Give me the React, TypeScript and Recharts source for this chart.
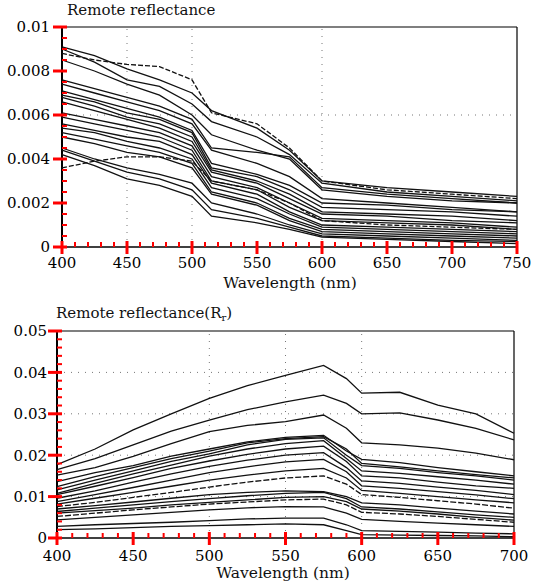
import { LineChart, Line, XAxis, YAxis, ReferenceLine } from "recharts";

// upper panel: remote reflectance, 400-750 nm
const topWavelengths = [400, 425, 450, 475, 500, 515, 550, 575, 600, 650, 700, 750];
const topCurves: number[][] = [
  [0.0091, 0.0087, 0.0081, 0.0076, 0.007, 0.0062, 0.0054, 0.0044, 0.003, 0.0027, 0.0025, 0.0023],
  [0.0088, 0.0085, 0.0083, 0.0082, 0.0076, 0.0061, 0.0056, 0.0045, 0.003, 0.0026, 0.0024, 0.0022],
  [0.009, 0.0084, 0.0076, 0.0073, 0.0065, 0.0057, 0.005, 0.0042, 0.0029, 0.0025, 0.0023, 0.0021],
  [0.0085, 0.008, 0.0074, 0.0069, 0.006, 0.0051, 0.0044, 0.004, 0.0026, 0.0023, 0.0021, 0.002],
  [0.0076, 0.0072, 0.0068, 0.0064, 0.0058, 0.0045, 0.0043, 0.0041, 0.0027, 0.0024, 0.0022, 0.002],
  [0.0074, 0.007, 0.0066, 0.0062, 0.0056, 0.0044, 0.0038, 0.0032, 0.0022, 0.002, 0.0018, 0.0016],
  [0.0071, 0.0067, 0.0063, 0.0059, 0.0053, 0.0038, 0.0033, 0.0028, 0.002, 0.0019, 0.0017, 0.0016],
  [0.0069, 0.0066, 0.0061, 0.0058, 0.0052, 0.0036, 0.0032, 0.0026, 0.0018, 0.0017, 0.0016, 0.0014],
  [0.0068, 0.0064, 0.0059, 0.0056, 0.005, 0.0035, 0.003, 0.0024, 0.0016, 0.0015, 0.0014, 0.0012],
  [0.0066, 0.0062, 0.0058, 0.0054, 0.0048, 0.0034, 0.0029, 0.0022, 0.0015, 0.0014, 0.0012, 0.0011],
  [0.0061, 0.0058, 0.0055, 0.0052, 0.0046, 0.0032, 0.0027, 0.002, 0.0013, 0.0012, 0.0011, 0.0009],
  [0.0059, 0.0056, 0.0053, 0.005, 0.0044, 0.003, 0.0026, 0.0018, 0.0012, 0.0011, 0.001, 0.0008],
  [0.0056, 0.0053, 0.005, 0.0048, 0.0042, 0.0029, 0.0024, 0.0016, 0.001, 0.0009, 0.0008, 0.0007],
  [0.0054, 0.0052, 0.0048, 0.0045, 0.004, 0.0027, 0.0022, 0.0015, 0.0009, 0.0008, 0.0007, 0.0006],
  [0.0052, 0.0049, 0.0046, 0.0043, 0.0038, 0.0025, 0.002, 0.0013, 0.0008, 0.0007, 0.0006, 0.0005],
  [0.005, 0.0047, 0.0043, 0.0041, 0.0036, 0.0024, 0.0019, 0.0012, 0.0007, 0.0006, 0.0005, 0.0004],
  [0.0045, 0.004, 0.0036, 0.0033, 0.0029, 0.002, 0.0015, 0.001, 0.0006, 0.0005, 0.0004, 0.0003],
  [0.0044, 0.0039, 0.0034, 0.0031, 0.0026, 0.0017, 0.0013, 0.0009, 0.0005, 0.0004, 0.0003, 0.00025],
  [0.0042, 0.0037, 0.0031, 0.0028, 0.0023, 0.0014, 0.0011, 0.0008, 0.00045, 0.00035, 0.00025, 0.00015],
  [0.0036, 0.0039, 0.0041, 0.0041, 0.0039, 0.003, 0.0026, 0.002, 0.0012, 0.001, 0.0009, 0.0008],
];
const topXTicks = [400, 450, 500, 550, 600, 650, 700, 750];
const topYTicks = [0, 0.002, 0.004, 0.006, 0.008, 0.01];
const topYLabels = ["0", "0.002", "0.004", "0.006", "0.008", "0.01"];

// lower panel: remote reflectance (Rr), 400-700 nm
const bottomWavelengths = [400, 425, 450, 475, 500, 525, 550, 575, 590, 600, 625, 650, 675, 700];
const bottomCurves: number[][] = [
  [0.0177, 0.0215, 0.0261, 0.03, 0.0337, 0.0368, 0.0393, 0.0417, 0.0385, 0.035, 0.0352, 0.0321, 0.03, 0.0253],
  [0.0165, 0.0192, 0.0225, 0.0258, 0.0285, 0.031, 0.0329, 0.0345, 0.0325, 0.03, 0.0302, 0.0285, 0.0265, 0.0237],
  [0.0152, 0.017, 0.0197, 0.0228, 0.0257, 0.0272, 0.0281, 0.0297, 0.0265, 0.023, 0.0225, 0.0217, 0.0205, 0.0189],
  [0.0136, 0.0158, 0.0175, 0.0198, 0.0215, 0.0232, 0.0243, 0.0248, 0.021, 0.019, 0.0182, 0.017, 0.016, 0.015],
  [0.0124, 0.0148, 0.017, 0.0192, 0.021, 0.023, 0.024, 0.0245, 0.0215, 0.018, 0.0172, 0.0162, 0.0153, 0.0145],
  [0.0116, 0.014, 0.0162, 0.0185, 0.0203, 0.0225, 0.0238, 0.0242, 0.02, 0.0175, 0.0168, 0.0158, 0.015, 0.014],
  [0.0108, 0.0132, 0.0155, 0.0176, 0.0198, 0.0215, 0.0228, 0.0235, 0.0192, 0.0162, 0.0156, 0.0148, 0.014, 0.013],
  [0.0105, 0.0125, 0.0146, 0.0168, 0.0186, 0.0202, 0.0215, 0.0222, 0.0185, 0.015, 0.0145, 0.0135, 0.0126, 0.012],
  [0.0096, 0.0114, 0.0135, 0.0155, 0.0173, 0.0188, 0.02, 0.0206, 0.017, 0.0138, 0.0132, 0.0123, 0.0115, 0.0105],
  [0.0088, 0.0105, 0.0122, 0.014, 0.0158, 0.0172, 0.0184, 0.019, 0.016, 0.0126, 0.012, 0.0112, 0.0104, 0.0095],
  [0.0082, 0.0096, 0.011, 0.0125, 0.014, 0.0152, 0.0162, 0.0168, 0.0145, 0.0115, 0.0108, 0.01, 0.0092, 0.0085],
  [0.0076, 0.0086, 0.0098, 0.011, 0.0123, 0.0135, 0.0145, 0.015, 0.013, 0.0105, 0.0098, 0.009, 0.0082, 0.0072],
  [0.007, 0.0078, 0.0087, 0.0096, 0.0105, 0.011, 0.0114, 0.0112, 0.01, 0.0085, 0.008, 0.0072, 0.0065, 0.0058],
  [0.0064, 0.0072, 0.008, 0.0088, 0.0095, 0.0102, 0.0108, 0.011, 0.0095, 0.0075, 0.007, 0.0063, 0.0056, 0.005],
  [0.006, 0.0066, 0.0072, 0.008, 0.0086, 0.0092, 0.0098, 0.01, 0.0088, 0.007, 0.0065, 0.0058, 0.005, 0.0043],
  [0.0052, 0.006, 0.0068, 0.0075, 0.0082, 0.0087, 0.0092, 0.0094, 0.008, 0.0062, 0.0058, 0.0052, 0.0045, 0.0038],
  [0.0044, 0.005, 0.0056, 0.0062, 0.0068, 0.0073, 0.0076, 0.0075, 0.006, 0.0045, 0.004, 0.0036, 0.0032, 0.0028],
  [0.0028, 0.0032, 0.0035, 0.0038, 0.0042, 0.0046, 0.0048, 0.0048, 0.0032, 0.0018, 0.0016, 0.0014, 0.0012, 0.001],
  [0.002, 0.0022, 0.0025, 0.0028, 0.003, 0.0032, 0.0034, 0.0032, 0.0018, 0.0008, 0.0007, 0.0006, 0.0005, 0.0003],
];
const bottomXTicks = [400, 450, 500, 550, 600, 650, 700];
const bottomYTicks = [0, 0.01, 0.02, 0.03, 0.04, 0.05];
const bottomYLabels = ["0", "0.01", "0.02", "0.03", "0.04", "0.05"];

// minor tick positions (every 10 nm; 0.0005 / 0.002 on the value axes)
const topMinorX = Array.from({ length: 36 }, (_, i) => 400 + i * 10);
const topMinorY = Array.from({ length: 21 }, (_, i) => i * 0.0005);
const bottomMinorX = Array.from({ length: 31 }, (_, i) => 400 + i * 10);
const bottomMinorY = Array.from({ length: 26 }, (_, i) => i * 0.002);

function toRows(wl: number[], curves: number[][]) {
  return wl.map((w, i) => {
    const row: Record<string, number> = { w };
    curves.forEach((c, j) => {
      row["s" + j] = c[i];
    });
    return row;
  });
}

const font = "'DejaVu Serif', 'Liberation Serif', serif";
const ink = "#000";
const tickInk = "red"; // check that tick marks come out
const dotted = "1 6";
const gridInk = "#777";

const near = (a: number, b: number) => Math.abs(a - b) < 1e-9;
const GAP = 10; // tickSize + tickMargin handed to recharts

// bottom axis tick: major = crosses axis + label, minor = short inward mark
function XTick(props: any) {
  const { x, y, payload, majors, labelGap } = props;
  const y0 = y - GAP;
  const v = payload.value;
  const isMajor = majors.some((m: number) => near(m, v));
  return (
    <g>
      <path d={isMajor ? `M${x},${y0 - 6}V${y0 + 7}` : `M${x},${y0}V${y0 - 5}`}
        stroke={tickInk} strokeWidth={isMajor ? 3 : 2} fill="none" />
      {isMajor && (
        <text x={x} y={y0 + labelGap} dy="0.71em" textAnchor="middle" fontSize={15} fontFamily={font} fill={ink}>
          {v}
        </text>
      )}
    </g>
  );
}

function YTick(props: any) {
  const { x, y, payload, majors, labels, labelGap } = props;
  const x0 = x + GAP;
  const v = payload.value;
  const idx = majors.findIndex((m: number) => near(m, v));
  return (
    <g>
      <path d={idx >= 0 ? `M${x0 - 9},${y}H${x0 + 5}` : `M${x0},${y}H${x0 + 5}`}
        stroke={tickInk} strokeWidth={idx >= 0 ? 3 : 2} fill="none" />
      {idx >= 0 && (
        <text x={x0 - labelGap} y={y} dy="0.355em" textAnchor="end" fontSize={15} fontFamily={font} fill={ink}>
          {labels[idx]}
        </text>
      )}
    </g>
  );
}

const topDashed = [1, 19];

function TopPanel() {
  const data = toRows(topWavelengths, topCurves);
  return (
    <LineChart width={533} height={295} data={data} margin={{ top: 27, right: 16, bottom: 0, left: 0 }}>
      <XAxis dataKey="w" type="number" domain={[400, 750]} ticks={topMinorX} interval={0} height={48}
        tickSize={0} tickMargin={GAP} tickLine={false} axisLine={false}
        tick={(p: any) => <XTick {...p} majors={topXTicks} labelGap={10} />} />
      <YAxis type="number" domain={[0, 0.01]} ticks={topMinorY} interval={0} width={62}
        tickSize={0} tickMargin={GAP} tickLine={false} axisLine={false}
        tick={(p: any) => <YTick {...p} majors={topYTicks} labels={topYLabels} labelGap={12} />} />
      <ReferenceLine y={0.006} stroke={gridInk} strokeDasharray={dotted} />
      <ReferenceLine x={450} stroke={gridInk} strokeDasharray={dotted} />
      <ReferenceLine x={500} stroke={gridInk} strokeDasharray={dotted} />
      <ReferenceLine x={600} stroke={gridInk} strokeDasharray={dotted} />
      {/* plot frame */}
      <ReferenceLine y={0.01} stroke={ink} strokeWidth={1.2} />
      <ReferenceLine x={750} stroke={ink} strokeWidth={1.2} />
      <ReferenceLine y={0} stroke={ink} strokeWidth={1.6} />
      <ReferenceLine x={400} stroke={ink} strokeWidth={2} />
      {topCurves.map((_, j) => (
        <Line key={j} dataKey={"s" + j} type="linear" dot={false} stroke="#111" strokeWidth={1.3}
          strokeDasharray={topDashed.includes(j) ? "5 2" : undefined} isAnimationActive={false} />
      ))}
    </LineChart>
  );
}

const bottomDashed = [11, 15];

function BottomPanel() {
  const data = toRows(bottomWavelengths, bottomCurves);
  return (
    <LineChart width={533} height={291} data={data} margin={{ top: 36, right: 19, bottom: 0, left: 0 }}>
      <XAxis dataKey="w" type="number" domain={[400, 700]} ticks={bottomMinorX} interval={0} height={48}
        tickSize={0} tickMargin={GAP} tickLine={false} axisLine={false}
        tick={(p: any) => <XTick {...p} majors={bottomXTicks} labelGap={12} />} />
      <YAxis type="number" domain={[0, 0.05]} ticks={bottomMinorY} interval={0} width={57}
        tickSize={0} tickMargin={GAP} tickLine={false} axisLine={false}
        tick={(p: any) => <YTick {...p} majors={bottomYTicks} labels={bottomYLabels} labelGap={10} />} />
      {[0.01, 0.02, 0.03, 0.04].map((v) => (
        <ReferenceLine key={v} y={v} stroke={gridInk} strokeDasharray={dotted} />
      ))}
      {[500, 550, 600].map((v) => (
        <ReferenceLine key={v} x={v} stroke={gridInk} strokeDasharray={dotted} />
      ))}
      {/* plot frame */}
      <ReferenceLine y={0.05} stroke={ink} strokeWidth={1.2} />
      <ReferenceLine x={700} stroke={ink} strokeWidth={1.2} />
      <ReferenceLine y={0} stroke={ink} strokeWidth={1.6} />
      <ReferenceLine x={400} stroke={ink} strokeWidth={2} />
      {bottomCurves.map((_, j) => (
        <Line key={j} dataKey={"s" + j} type="linear" dot={false} stroke="#111" strokeWidth={1.3}
          strokeDasharray={bottomDashed.includes(j) ? "6 2" : undefined} isAnimationActive={false} />
      ))}
    </LineChart>
  );
}

const textStyle: React.CSSProperties = {
  position: "absolute",
  fontFamily: font,
  color: "#111",
  whiteSpace: "nowrap",
  lineHeight: 1,
};

export default function App() {
  return (
    <div style={{ position: "absolute", left: 0, top: 0, width: 533, height: 586, background: "#fff", overflow: "hidden" }}>
      <div style={{ position: "absolute", left: 0, top: 0 }}>
        <TopPanel />
      </div>
      <div style={{ position: "absolute", left: 0, top: 295 }}>
        <BottomPanel />
      </div>
      <div style={{ ...textStyle, left: 67, top: 3, fontSize: 15 }}>Remote reflectance</div>
      <div style={{ ...textStyle, left: 290, top: 276, fontSize: 15.5, transform: "translateX(-50%)" }}>
        Wavelength (nm)
      </div>
      <div style={{ ...textStyle, left: 56, top: 306, fontSize: 15 }}>
        Remote reflectance(R<sub style={{ fontSize: 10, verticalAlign: "-3px" }}>r</sub>)
      </div>
      <div style={{ ...textStyle, left: 283, top: 566, fontSize: 15.5, transform: "translateX(-50%)" }}>
        Wavelength (nm)
      </div>
    </div>
  );
}
